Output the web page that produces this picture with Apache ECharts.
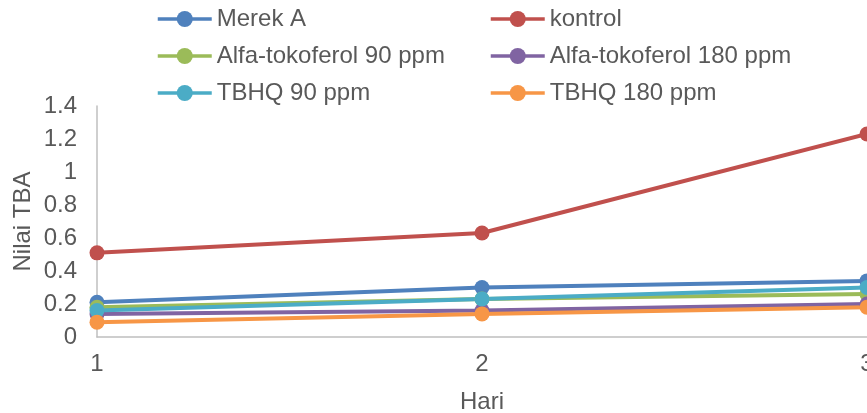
<!DOCTYPE html>
<html><head><meta charset="utf-8">
<script src="https://cdn.jsdelivr.net/npm/echarts@6/dist/echarts.min.js"></script>
<style>html,body{margin:0;padding:0;background:#fff}#c{width:867px;height:413px}</style>
</head><body><div id="c"></div>
<script>
const categories = ['1', '2', '3'];
const merekA = [0.21, 0.30, 0.34];
const kontrol = [0.51, 0.63, 1.23];
const alfa90 = [0.18, 0.23, 0.26];
const alfa180 = [0.14, 0.16, 0.20];
const tbhq90 = [0.16, 0.23, 0.30];
const tbhq180 = [0.09, 0.14, 0.18];

const font = 'Liberation Sans, Arial, sans-serif';
const txt = '#595959';
function mk(name, data, color) {
  return {
    name, type: 'line', data,
    symbol: 'circle', symbolSize: 15,
    lineStyle: { width: 4, color },
    itemStyle: { color },
    emphasis: { disabled: true }
  };
}
const legendBase = {
  orient: 'vertical', top: 7, padding: 0, itemGap: 13, itemWidth: 54, itemHeight: 20,
  lineStyle: { width: 3.5 },
  textStyle: { fontFamily: font, fontSize: 24, lineHeight: 24, color: txt }
};
const chart = echarts.init(document.getElementById('c'));
chart.setOption({
  animation: false,
  grid: { left: 97, right: 0, top: 106, bottom: 76, containLabel: false, outerBoundsMode: 'none' },
  legend: [
    Object.assign({}, legendBase, { left: 156, data: ['Merek A', 'Alfa-tokoferol 90 ppm', 'TBHQ 90 ppm'] }),
    Object.assign({}, legendBase, { left: 489, data: ['kontrol', 'Alfa-tokoferol 180 ppm', 'TBHQ 180 ppm'] })
  ],
  xAxis: {
    type: 'category', data: categories, boundaryGap: false,
    name: 'Hari', nameLocation: 'middle', nameGap: 53, nameMoveOverlap: false,
    nameTextStyle: { fontFamily: font, fontSize: 24, color: txt },
    axisLine: { lineStyle: { color: '#bfbfbf', width: 1.5 } },
    axisTick: { show: false },
    axisLabel: { fontFamily: font, fontSize: 24, color: txt, margin: 15 }
  },
  yAxis: {
    type: 'value', min: 0, max: 1.4, interval: 0.2,
    name: 'Nilai TBA', nameLocation: 'middle', nameGap: 62, nameMoveOverlap: false,
    nameTextStyle: { fontFamily: font, fontSize: 24, color: txt },
    axisLine: { show: true, lineStyle: { color: '#bfbfbf', width: 1.5 } },
    axisTick: { show: false },
    splitLine: { show: false },
    axisLabel: { fontFamily: font, fontSize: 24, color: txt, margin: 20,
      formatter: v => String(Math.round(v * 10) / 10) }
  },
  series: [
    mk('Merek A', merekA, '#4F81BD'),
    mk('kontrol', kontrol, '#C0504D'),
    mk('Alfa-tokoferol 90 ppm', alfa90, '#9BBB59'),
    mk('Alfa-tokoferol 180 ppm', alfa180, '#8064A2'),
    mk('TBHQ 90 ppm', tbhq90, '#4BACC6'),
    mk('TBHQ 180 ppm', tbhq180, '#F79646')
  ]
});
</script></body></html>
